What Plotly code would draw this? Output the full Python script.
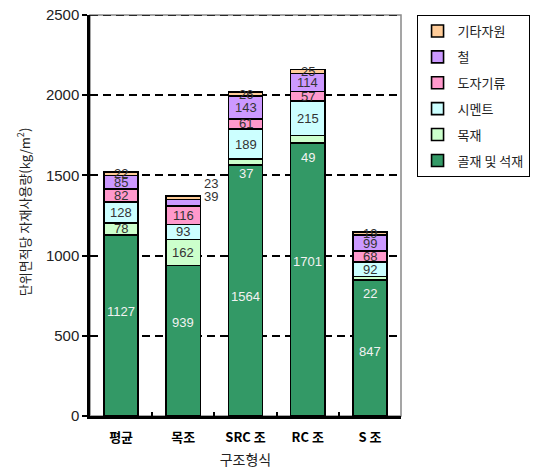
import plotly.graph_objects as go

# ---- data ----
categories = ["평균", "목조", "SRC 조", "RC 조", "S 조"]
series_names = ["골재 및 석재", "목재", "시멘트", "도자기류", "철", "기타자원"]
aggregate = [1127, 939, 1564, 1701, 847]
wood = [78, 162, 37, 49, 22]
cement = [128, 93, 189, 215, 92]
ceramic = [82, 116, 61, 57, 68]
steel = [85, 39, 143, 114, 99]
other = [22, 23, 26, 25, 19]
y_ticks = [0, 500, 1000, 1500, 2000, 2500]

series_values = [aggregate, wood, cement, ceramic, steel, other]

# ---- styles ----
colors = ["#339966", "#CCFFCC", "#CCFFFF", "#FF99CC", "#CC99FF", "#FFCC99"]
label_colors = ["#F2F2F2", "#333333", "#333333", "#333333", "#333333", "#333333"]
# label placement tweaks (series index, category index) -> (xshift px, yshift px)
label_shift = {
    (0, 0): (0, 14), (0, 1): (0, 18), (0, 2): (0, -6), (0, 3): (0, 18), (0, 4): (0, -3),
    (1, 2): (0, -11), (1, 3): (0, -18), (1, 4): (0, -15),
    (4, 1): (28, 6), (5, 1): (28, 14),
}
white_labels = {(1, 2), (1, 3), (1, 4)}

KR = "Noto Sans CJK KR, Liberation Sans, sans-serif"
NUM = "Liberation Sans, Arial, sans-serif"

fig = go.Figure()
n = len(series_names)
for i, (name, vals) in enumerate(zip(series_names, series_values)):
    fig.add_trace(go.Bar(
        x=categories, y=vals, name=name, legendgroup=name, legendrank=n - i,
        marker=dict(color=colors[i], line=dict(color="black", width=1.6)),
        width=0.55, hoverinfo="name+y",
    ))

annotations = []
cum = [0] * len(categories)
for i, vals in enumerate(series_values):
    for j, v in enumerate(vals):
        center = cum[j] + v / 2
        dx, dy = label_shift.get((i, j), (0, 0))
        col = "#F2F2F2" if (i, j) in white_labels else label_colors[i]
        annotations.append(dict(
            x=categories[j], y=center, xref="x", yref="y", text=str(v),
            showarrow=False, xshift=dx, yshift=dy,
            font=dict(family=NUM, size=13, color=col),
        ))
        cum[j] += v

annotations.append(dict(
    x=-0.213, y=0.51, xref="paper", yref="paper", textangle=-90,
    xanchor="center", yanchor="middle",
    text="단위면적당 자재사용량(kg/m<sup>2</sup>)", showarrow=False,
    font=dict(family=KR, size=13, color="#222222"),
))

fig.update_layout(
    width=542, height=472,
    margin=dict(l=90, r=131, t=15, b=56),
    paper_bgcolor="white", plot_bgcolor="white",
    barmode="stack", bargap=0.45,
    annotations=annotations,
    shapes=[
        dict(type="rect", xref="paper", yref="paper", x0=0, y0=0, x1=1, y1=1,
             line=dict(color="#888888", width=1.5), layer="below"),
        dict(type="line", xref="paper", yref="y", x0=0, x1=1, y0=y_ticks[-1], y1=y_ticks[-1],
             line=dict(color="black", width=1.5, dash="8px,5px"), layer="above"),
    ],
    legend=dict(
        x=1.05, xanchor="left", y=1.0, yanchor="top",
        bordercolor="black", borderwidth=1, bgcolor="white",
        font=dict(family=KR, size=13, color="#222222"),
        traceorder="grouped", tracegroupgap=6,
        itemwidth=30,
    ),
    xaxis=dict(
        automargin=False,
        showline=True, linecolor="black", linewidth=2.5,
        ticks="inside", tickson="boundaries", ticklen=4, tickcolor="black", tickwidth=1.5,
        tickfont=dict(family=KR, size=13, color="black", weight="bold"),
        ticklabelstandoff=8,
        title=dict(text="구조형식", font=dict(family=KR, size=14, color="#222222"), standoff=10),
        showgrid=False,
    ),
    yaxis=dict(
        automargin=False,
        range=[0, 2500], tickvals=y_ticks,
        showline=True, linecolor="black", linewidth=2.5,
        ticks="outside", ticklen=5, tickcolor="black", tickwidth=1.5,
        tickfont=dict(family=NUM, size=15, color="#222222"),
        showgrid=True, gridcolor="black", gridwidth=1.5, griddash="8px,5px",
        zeroline=False,
    ),
    font=dict(family=KR),
)

fig.write_html("out.html")
